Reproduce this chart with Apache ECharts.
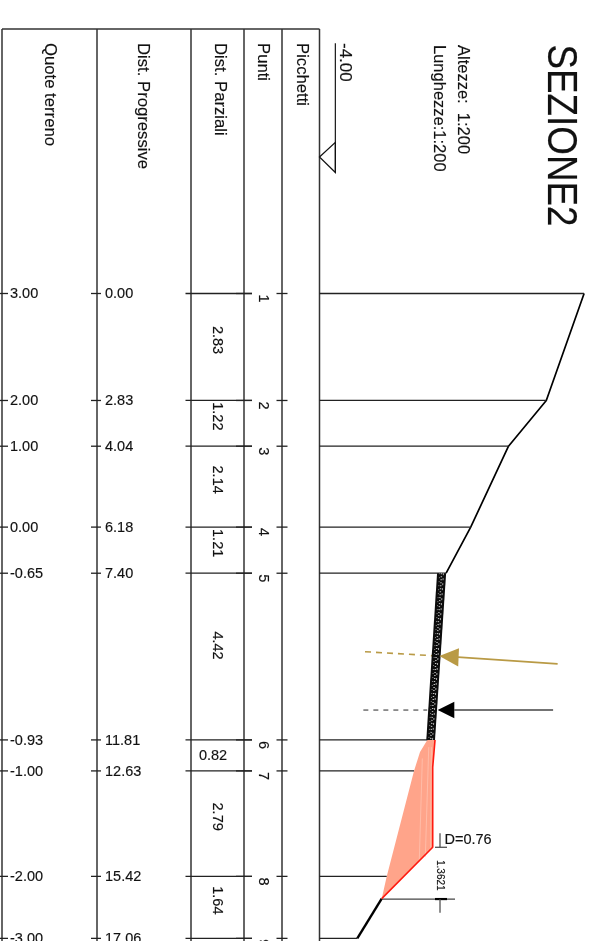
<!DOCTYPE html>
<html><head><meta charset="utf-8">
<style>html,body{margin:0;padding:0;background:#fff}#c{width:597px;height:941px}</style>
<script src="https://cdn.jsdelivr.net/npm/echarts@6/dist/echarts.min.js"></script>
</head><body><div id="c"></div>
<script>
// ---- data ----
const stations = [0, 2.83, 4.04, 6.18, 7.40, 11.81, 12.63, 15.42, 17.06];
const quoteLabels = ['3.00','2.00','1.00','0.00','-0.65','-0.93','-1.00','-2.00','-3.00'];
const progLabels = ['0.00','2.83','4.04','6.18','7.40','11.81','12.63','15.42','17.06'];
const puntiLabels = ['1','2','3','4','5','6','7','8','9'];
const partialLabels = ['2.83','1.22','2.14','1.21','4.42','0.82','2.79','1.64'];
const headers = ['Quote terreno','Dist. Progressive','Dist. Parziali','Punti','Picchetti'];
const groundReach = [3, 2, 1, 0, -0.65, -1.148, -1.5, -2.222, -3];
const upperProfile = [[3,0],[2,2.83],[1,4.04],[0,6.18],[-0.65,7.40]];
const lowerProfile = [[-2.354,16.01],[-3,17.06]];
const wallOutline = [[-0.65,7.40],[-0.89,7.40],[-1.175,11.81],[-0.944,11.81]];
const wallCentre = [[-0.77,7.40],[-1.06,11.81]];
const wallLeft = [[-0.82,7.40],[-1.11,11.81]];
const wallRight = [[-0.72,7.40],[-1.01,11.81]];
const fillOutline = [[-0.944,11.81],[-1.005,12.53],[-1.005,14.65],[-2.354,16.01],[-2.222,15.42],[-1.5,12.63],[-1.341,12.13],[-1.148,11.81]];
const redLine = [[-0.944,11.81],[-1.005,12.53],[-1.005,14.65],[-2.354,16.01]];
const fillStreaks = [[[-1.11,12.0],[-1.2,14.9]],[[-1.04,12.0],[-1.06,14.7]],[[-1.28,12.3],[-1.36,15.0]]];
const goldDashed = [[-2.796,9.476],[-0.865,9.59]];
const goldSolid = [[-0.336,9.62],[2.30,9.80]];
const goldHead = [[-0.83,9.59],[-0.31,9.386],[-0.33,9.87]];
const blackDashed = [[-2.84,11.02],[-1.15,11.02]];
const blackSolid = [[-0.434,11.02],[2.18,11.02]];
const blackHead = [[-0.873,11.02],[-0.434,10.8],[-0.434,11.24]];
const datumLine = [[-3.58,-6.62],[-3.58,-3.2]];
const datumMark = [[-4,-3.61],[-3.58,-4],[-3.58,-3.2]];
const dimLines = [
  [[-0.812,14.28],[-0.812,14.65]], [[-0.944,14.65],[-0.627,14.65]],
  [[-2.354,16.02],[-0.415,16.02]], [[-0.944,16.02],[-0.627,16.02]], [[-0.812,16.02],[-0.812,16.38]]
];

// ---- layout ----
const U = 37.8, datumPx = 319.5, zeroPx = 293.5, W = 597, H = 941;
const columnsPx = [2, 97, 191, 244, 282, 319.5];
const headerCentrePx = [50, 143, 220, 263, 301.5];
const topPx = 29;
const partialOffsetPx = [-7,-7,-7,-7,-11,0,-7,-7];
const FONT = '"Liberation Sans", Arial, sans-serif';
const INK = '#222';
const ln = (x1,y1,x2,y2,w,c) => ({type:'line',shape:{x1,y1,x2,y2},style:{stroke:c||INK,lineWidth:w||1.3,fill:null}});
const txt = (s,x,y,size,rot,align,extra) => Object.assign({type:'text',x,y,rotation:rot?-Math.PI/2:0,
  style:{text:s,x:0,y:0,fill:'#111',stroke:'#111',lineWidth:0.15,font:size+'px '+FONT,align:align||'left',verticalAlign:'middle'}},extra||{});

const chart = echarts.init(document.getElementById('c'),null,{renderer:'canvas'});

const customBase = {type:'custom',coordinateSystem:'cartesian2d',clip:false,silent:true,animation:false};
const lineBase = (data,color,width,dash,z) => ({type:'line',data,showSymbol:false,symbol:'none',silent:true,animation:false,z:z||3,
  lineStyle:{color,width,type:dash||'solid',cap:'butt'}});
const polygon = (points,fill,stroke,z) => Object.assign({},customBase,{z:z||2,
  data:[points[0]],
  encode:{x:0,y:1},
  renderItem:(p,api)=>({type:'polygon',shape:{points:points.map(q=>api.coord(q))},
    style:{fill:fill||'none',stroke:stroke||'none',lineWidth:1.2}})
});

const series = [
  // table frame + headers
  Object.assign({},customBase,{data:[[0,0]],z:4,encode:{x:0,y:1},renderItem:(p,api)=>({type:'group',children:[
    ...columnsPx.map(x=>ln(x,topPx,x,H,1.5,'#333')),
    ln(columnsPx[0],topPx,columnsPx[5],topPx,1.5,'#333'),
    ...headers.map((h,i)=>txt(h,headerCentrePx[i],43,16.7,true))
  ]})}),
  // rows
  Object.assign({},customBase,{data:stations.map((s,i)=>[groundReach[i],s,i]),z:4,encode:{x:0,y:1},renderItem:(p,api)=>{
    const i=api.value(2), end=api.coord([api.value(0),api.value(1)]), y=end[1];
    return {type:'group',children:[
      ln(0,y,8,y), ln(91,y,101,y),
      ln(185.5,y,252,y), ln(236,y,252,y), ln(276.5,y,287.5,y),
      ln(datumPx,y,end[0],y),
      txt(quoteLabels[i],10,y+0.7,14.5), txt(progLabels[i],105,y+0.7,14.5),
      txt(puntiLabels[i],262.5,y+1,14.5,true)
    ]};
  }}),
  // partial distances
  Object.assign({},customBase,{data:partialLabels.map((l,i)=>[0,(stations[i]+stations[i+1])/2,i]),z:4,encode:{x:0,y:1},renderItem:(p,api)=>{
    const i=api.value(2), y=api.coord([0,api.value(1)])[1]+partialOffsetPx[i];
    return i===5 ? txt(partialLabels[i],213,y+0.7,14.5,false,'center')
                 : txt(partialLabels[i],217,y,14.5,true,'center');
  }}),
  polygon(fillOutline,'#ffa48a',null,2),
  ...fillStreaks.map(s=>lineBase(s,'#ffc6b4',0.7,null,2)),
  polygon(wallOutline,'#0c0c0c',null,5),
  lineBase(wallCentre,'#c4c4c4',1.4,[1,2],6),
  lineBase(wallLeft,'#8a8a8a',1,[1,3],6),
  lineBase(wallRight,'#a8a8a8',1,[2,3],6),
  lineBase(upperProfile,'#000',1.7),
  lineBase(lowerProfile,'#000',2.4),
  lineBase(redLine,'#ff1a10',1.6,null,4),
  lineBase(goldDashed,'#b99a45',1.6,[6,5]),
  lineBase(goldSolid,'#b99a45',1.8),
  polygon(goldHead,'#b99a45',null,7),
  lineBase(blackDashed,'#666',1.4,[5,5]),
  lineBase(blackSolid,'#444',1.4),
  polygon(blackHead,'#000',null,7),
  lineBase(datumLine,'#222',1.3),
  polygon(datumMark,'none','#111',4),
  ...dimLines.map((d,i)=>lineBase(d,i===3?'#000':'#444',i===3?2.2:1.2)),
  // free text
  Object.assign({},customBase,{data:[[0,0]],z:8,encode:{x:0,y:1},renderItem:()=>({type:'group',children:[
    txt('SEZIONE2',559.5,44.5,36.8,true,'left',{scaleY:1.13}),
    txt('Altezze:  1:200',463,45,16.5,true),
    txt('Lunghezze:1:200',439,45,16.5,true),
    txt('-4.00',345,43,17,true),
    txt('D=0.76',444.5,840,14.5),
    txt('1.3621',440,860,10,true)
  ]})})
];

chart.setOption({
  backgroundColor:'#fff',animation:false,
  grid:{left:0,top:0,width:W,height:H,containLabel:false},
  xAxis:{type:'value',show:false,min:-4-datumPx/U,max:-4+(W-datumPx)/U,scale:true},
  yAxis:{type:'value',show:false,inverse:true,min:-zeroPx/U,max:(H-zeroPx)/U,scale:true},
  series
});
</script></body></html>
